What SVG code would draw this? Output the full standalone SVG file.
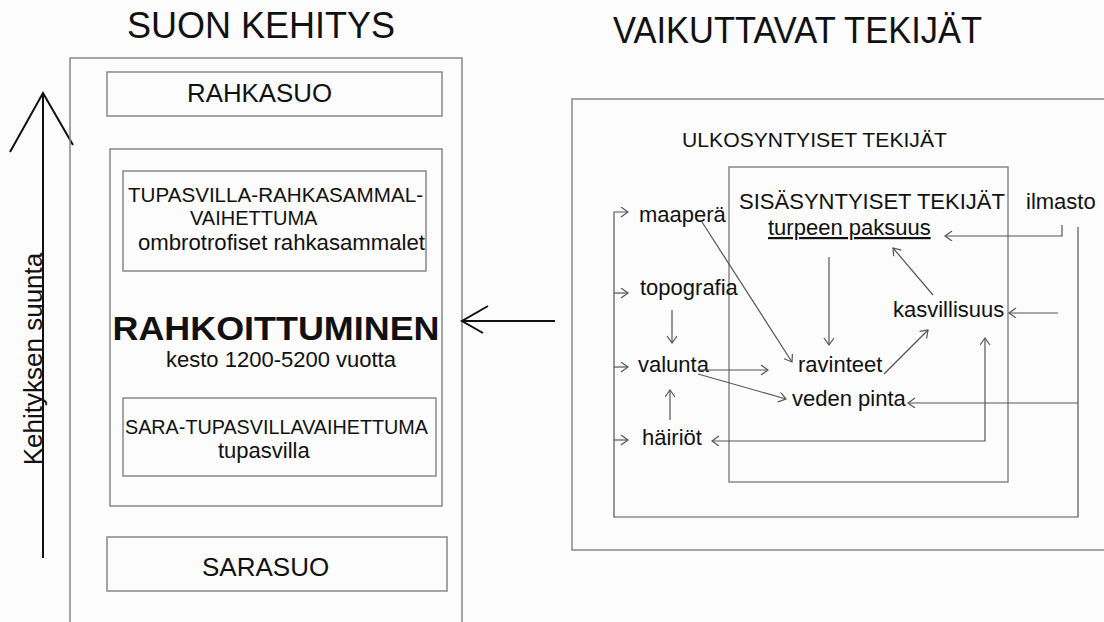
<svg xmlns="http://www.w3.org/2000/svg" width="1104" height="622" viewBox="0 0 1104 622">
<defs>
<style>
text{font-family:"Liberation Sans",Arial,sans-serif;fill:#111}
.box{fill:none;stroke:#888;stroke-width:1.5}
.c{fill:none;stroke:#555;stroke-width:1.2}
.bold{fill:none;stroke:#111;stroke-width:2}
</style>
<marker id="ah" markerUnits="userSpaceOnUse" markerWidth="12" markerHeight="12" refX="8" refY="5" orient="auto-start-reverse">
<path d="M1,0 L8,5 L1,10" fill="none" stroke="#555" stroke-width="1.2"/>
</marker>
</defs>
<rect width="1104" height="622" fill="#fcfcfc"/>

<g id="title-left"><text x="261" y="38" font-size="36" text-anchor="middle">SUON KEHITYS</text></g>
<g id="title-right"><text x="613" y="43" font-size="36" textLength="369" lengthAdjust="spacingAndGlyphs">VAIKUTTAVAT TEKIJÄT</text></g>

<g id="direction">
<path class="bold" d="M43,558 V93 M10,152 L43,93 L73,145"/>
<text transform="translate(42,359) rotate(-90)" font-size="26" text-anchor="middle">Kehityksen suunta</text>
</g>

<g id="suon-kehitys"><rect class="box" x="70" y="58" width="392" height="580"/></g>
<g id="rahkasuo">
<rect class="box" x="107" y="72" width="335" height="44"/>
<text x="187" y="102" font-size="25" textLength="145" lengthAdjust="spacingAndGlyphs">RAHKASUO</text>
</g>
<g id="rahkoittuminen">
<rect class="box" x="110" y="149" width="332" height="357"/>
<text x="276" y="340" font-size="34" font-weight="bold" text-anchor="middle" textLength="327" lengthAdjust="spacingAndGlyphs">RAHKOITTUMINEN</text>
<text x="281" y="367" font-size="22" text-anchor="middle">kesto 1200-5200 vuotta</text>
</g>
<g id="tupasvilla-rahkasammal">
<rect class="box" x="123" y="171" width="303" height="100"/>
<text x="128" y="202" font-size="20" textLength="295" lengthAdjust="spacingAndGlyphs">TUPASVILLA-RAHKASAMMAL-</text>
<text x="190" y="225" font-size="20">VAIHETTUMA</text>
<text x="138" y="250" font-size="22" textLength="287" lengthAdjust="spacingAndGlyphs">ombrotrofiset rahkasammalet</text>
</g>
<g id="sara-tupasvilla">
<rect class="box" x="123" y="398" width="313" height="78"/>
<text x="125" y="434" font-size="20" textLength="303" lengthAdjust="spacingAndGlyphs">SARA-TUPASVILLAVAIHETTUMA</text>
<text x="218" y="458" font-size="22">tupasvilla</text>
</g>
<g id="sarasuo">
<rect class="box" x="107" y="537" width="340" height="54"/>
<text x="202" y="576" font-size="26">SARASUO</text>
</g>

<g id="main-arrow"><path class="bold" d="M555,321 H462 M488,306 L462,321 L483,333"/></g>

<g id="ulkosyntyiset">
<rect class="box" x="572" y="99" width="560" height="451"/>
<text x="682" y="147" font-size="21" textLength="265" lengthAdjust="spacingAndGlyphs">ULKOSYNTYISET TEKIJÄT</text>
</g>
<g id="sisasyntyiset">
<rect class="box" x="729" y="167" width="279" height="315"/>
<text x="739" y="209" font-size="22" textLength="266" lengthAdjust="spacingAndGlyphs">SISÄSYNTYISET TEKIJÄT</text>
</g>
<g id="turpeen-paksuus"><text x="768" y="235" font-size="22" text-decoration="underline">turpeen paksuus</text></g>
<g id="ilmasto"><text x="1026" y="209" font-size="22">ilmasto</text></g>
<g id="maapera"><text x="639" y="222" font-size="22">maaperä</text></g>
<g id="topografia"><text x="640" y="295" font-size="22">topografia</text></g>
<g id="kasvillisuus"><text x="893" y="317" font-size="22">kasvillisuus</text></g>
<g id="valunta"><text x="638" y="372" font-size="22">valunta</text></g>
<g id="ravinteet"><text x="798" y="372" font-size="22">ravinteet</text></g>
<g id="veden-pinta"><text x="792" y="406" font-size="22">veden pinta</text></g>
<g id="hairiot"><text x="642" y="445" font-size="22">häiriöt</text></g>

<g id="connectors">
<path class="c" marker-end="url(#ah)" d="M1062,225 V236 H945"/>
<path class="c" marker-end="url(#ah)" d="M1078,227 V517 H614 V212 H628"/>
<path class="c" marker-end="url(#ah)" d="M614,293 H628"/>
<path class="c" marker-end="url(#ah)" d="M614,367 H628"/>
<path class="c" marker-end="url(#ah)" d="M614,440 H628"/>
<path class="c" marker-end="url(#ah)" d="M1058,313 H1009"/>
<path class="c" marker-end="url(#ah)" d="M1078,403 H908"/>
<path class="c" marker-start="url(#ah)" marker-end="url(#ah)" d="M985,338 V441 H712"/>
<path class="c" marker-end="url(#ah)" d="M829,257 V345"/>
<path class="c" marker-end="url(#ah)" d="M933,295 L893,248"/>
<path class="c" marker-end="url(#ah)" d="M884,374 L928,330"/>
<path class="c" marker-end="url(#ah)" d="M702,222 L792,362"/>
<path class="c" marker-end="url(#ah)" d="M698,370 H768"/>
<path class="c" marker-end="url(#ah)" d="M698,374 L786,399"/>
<path class="c" marker-end="url(#ah)" d="M672,310 V343"/>
<path class="c" marker-end="url(#ah)" d="M670,420 V390"/>
</g>
</svg>
